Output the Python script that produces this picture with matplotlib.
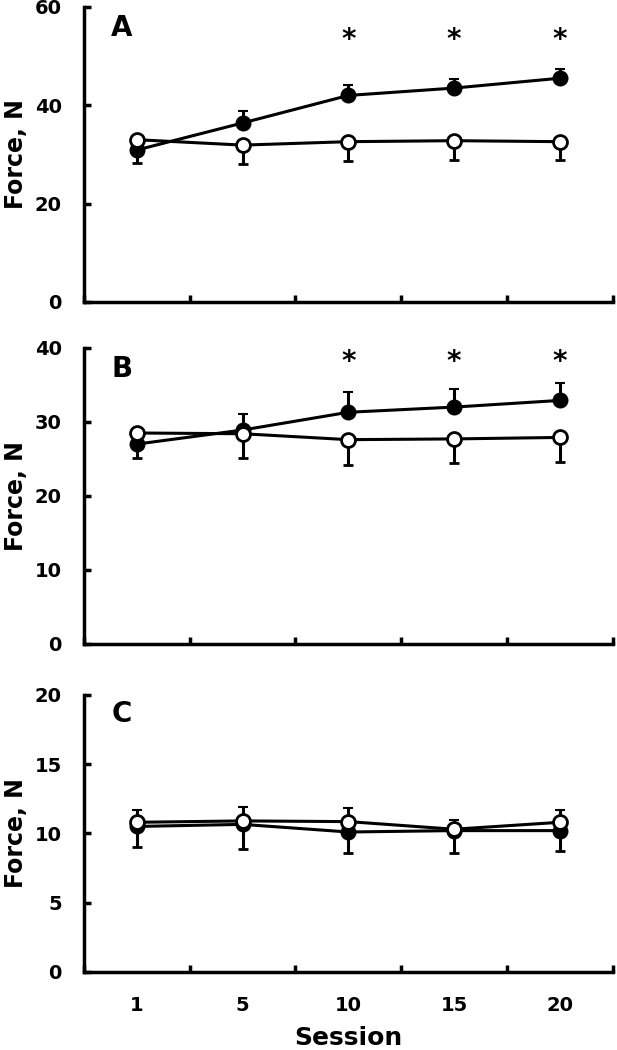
import matplotlib
matplotlib.use('Agg')
import matplotlib.pyplot as plt
import numpy as np

plt.rcParams.update({'font.family': 'DejaVu Sans', 'font.weight': 'bold'})

sessions = ['1', '5', '10', '15', '20']

# panel A
a_filled = [30.9, 36.4, 42.0, 43.5, 45.5]
a_filled_err = [2.0, 2.5, 2.2, 1.9, 1.8]
a_open = [33.0, 31.9, 32.6, 32.8, 32.6]
a_open_err = [4.7, 3.8, 3.9, 4.0, 3.8]

# panel B
b_filled = [27.0, 28.9, 31.3, 32.0, 32.9]
b_filled_err = [1.5, 2.1, 2.7, 2.5, 2.3]
b_open = [28.5, 28.4, 27.6, 27.7, 27.9]
b_open_err = [3.4, 3.3, 3.4, 3.3, 3.3]

# panel C
c_filled = [10.5, 10.65, 10.1, 10.2, 10.2]
c_filled_err = [1.2, 1.25, 1.7, 0.8, 1.5]
c_open = [10.8, 10.9, 10.85, 10.3, 10.8]
c_open_err = [1.8, 2.0, 2.25, 1.75, 2.1]

panels = [
    ('A', a_filled, a_filled_err, a_open, a_open_err, 60, 20, [3, 4, 5], 53.3),
    ('B', b_filled, b_filled_err, b_open, b_open_err, 40, 10, [3, 4, 5], 38.1),
    ('C', c_filled, c_filled_err, c_open, c_open_err, 20, 5, [], None),
]

positions = [
    [0.136, 0.7124, 0.857, 0.281],
    [0.136, 0.3867, 0.857, 0.282],
    [0.136, 0.0743, 0.857, 0.264],
]

fig = plt.figure(figsize=(6.17, 10.5), dpi=100)
x = np.arange(1, len(sessions) + 1)

for i, (letter, fv, fe, ov, oe, ymax, ystep, stars, star_y) in enumerate(panels):
    ax = fig.add_axes(positions[i])
    # filled: upward error bars, open: downward error bars
    ax.errorbar(x, fv, yerr=[np.zeros(len(fe)), fe], color='black', lw=2.2,
                marker='o', ms=10, mfc='black', mec='black', mew=1.5,
                elinewidth=2.2, capsize=3.5, capthick=2.2, zorder=3)
    ax.errorbar(x, ov, yerr=[oe, np.zeros(len(oe))], color='black', lw=2.2,
                marker='o', ms=10, mfc='white', mec='black', mew=2.0,
                elinewidth=2.2, capsize=3.5, capthick=2.2, zorder=4)
    for s in stars:
        ax.text(s, star_y, '*', ha='center', va='center', fontsize=20,
                fontweight='bold')
    ax.text(0.072, 0.93, letter, transform=ax.transAxes, ha='center',
            va='center', fontsize=20, fontweight='bold')

    ax.set_xlim(0.5, 5.5)
    ax.set_ylim(0, ymax)
    ax.set_yticks(np.arange(0, ymax + 1, ystep))
    ax.set_xticks(x)
    ax.set_xticks(np.arange(0.5, 6.0, 1.0), minor=True)
    ax.tick_params(axis='x', which='major', length=0, pad=17,
                   labelsize=14)
    ax.tick_params(axis='x', which='minor', direction='in', length=5,
                   width=2.5)
    ax.tick_params(axis='y', direction='in', length=5, width=2.5, pad=16,
                   labelsize=14)
    if i == 2:
        ax.set_xticklabels(sessions)
        ax.set_xlabel('Session', fontsize=18, fontweight='bold', labelpad=8)
    else:
        ax.set_xticklabels([])
    ax.set_ylabel('Force, N', fontsize=17, fontweight='bold')
    ax.yaxis.set_label_coords(-0.105, 0.5)
    for side in ['top', 'right']:
        ax.spines[side].set_visible(False)
    for side in ['left', 'bottom']:
        ax.spines[side].set_linewidth(2.5)

plt.savefig('out.png', dpi=100)
